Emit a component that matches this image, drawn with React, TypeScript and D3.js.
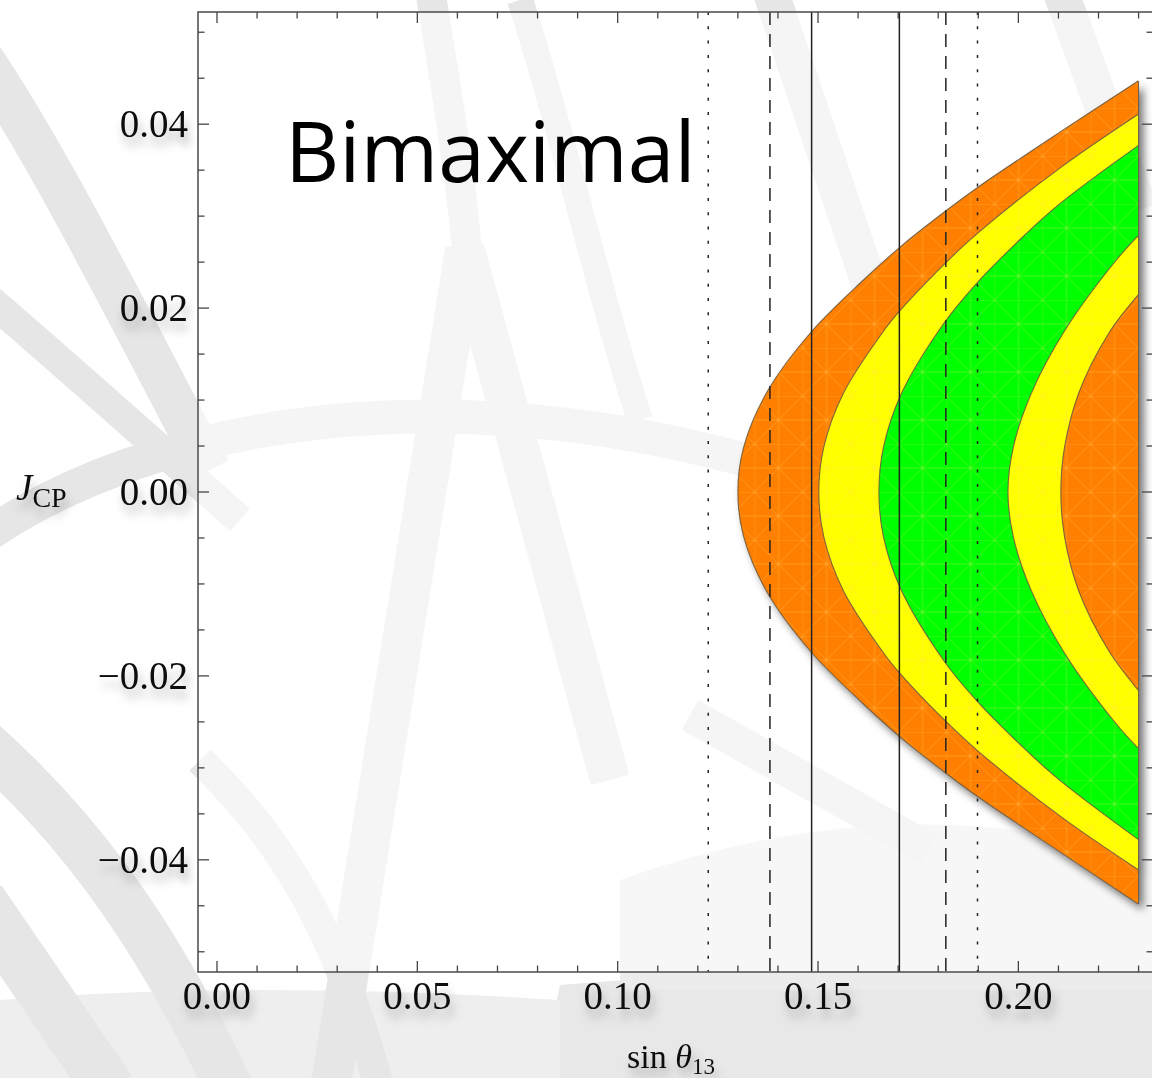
import React from 'react';
import * as d3 from 'd3';

const W = 1152;
const H = 1078;

// ---- axis ticks ----
const xMajorTicks = [0, 0.05, 0.1, 0.15, 0.2];
const xTickLabels = ['0.00', '0.05', '0.10', '0.15', '0.20'];
const yMajorTicks = [0.04, 0.02, 0, -0.02, -0.04];
const yTickLabels = ['0.04', '0.02', '0.00', '\u22120.02', '\u22120.04'];

// ---- vertical reference lines (sin θ13 ranges) ----
const refLineValues = [0.1226, 0.138, 0.1484, 0.1703, 0.1819, 0.1898];
const refLineStyles = ['dotted', 'dashed', 'solid', 'solid', 'dashed', 'dotted'];

// ---- region boundaries [sinθ13, J_CP], top half then bottom half ----
const outerUpper: [number, number][] = [
  [0.2299, 0.0447], [0.2099, 0.039], [0.1901, 0.0332], [0.1826, 0.0308], [0.1712, 0.0269],
  [0.1612, 0.023], [0.1483, 0.0174], [0.1373, 0.0109], [0.1314, 0.0048], [0.13, 0],
];
const outerLower: [number, number][] = [
  [0.1314, -0.0048], [0.1373, -0.0109], [0.1483, -0.0174], [0.1612, -0.023], [0.1712, -0.0269],
  [0.1826, -0.0308], [0.1901, -0.0332], [0.2099, -0.039], [0.2299, -0.0448],
];
const yellowUpper: [number, number][] = [
  [0.23, 0.0411], [0.2106, 0.0353], [0.19, 0.0282], [0.1811, 0.0246], [0.1706, 0.0198],
  [0.1667, 0.0177], [0.1563, 0.0107], [0.1514, 0.0048], [0.1502, 0],
];
const yellowLower: [number, number][] = [
  [0.1514, -0.0048], [0.1563, -0.0107], [0.1667, -0.0177], [0.1706, -0.0198], [0.1811, -0.0246],
  [0.19, -0.0282], [0.2106, -0.0353], [0.23, -0.0411],
];
const greenUpper: [number, number][] = [
  [0.23, 0.0377], [0.2091, 0.0309], [0.1951, 0.0252], [0.1896, 0.0227], [0.1815, 0.0184],
  [0.1707, 0.0106], [0.1663, 0.0048], [0.1652, 0],
];
const greenLower: [number, number][] = [
  [0.1663, -0.0048], [0.1707, -0.0106], [0.1815, -0.0184], [0.1896, -0.0227], [0.1951, -0.0252],
  [0.2091, -0.0309], [0.23, -0.0378],
];
const innerYellowUpper: [number, number][] = [
  [0.23, 0.0279], [0.2244, 0.0252], [0.2115, 0.0175], [0.2032, 0.0107], [0.1987, 0.0048], [0.1974, 0],
];
const innerYellowLower: [number, number][] = [
  [0.1987, -0.0048], [0.2032, -0.0107], [0.2115, -0.0175], [0.2244, -0.0252], [0.23, -0.0279],
];
const innerOrangeUpper: [number, number][] = [
  [0.23, 0.0215], [0.2226, 0.0173], [0.2151, 0.0108], [0.2115, 0.0048], [0.2106, 0],
];
const innerOrangeLower: [number, number][] = [
  [0.2115, -0.0048], [0.2151, -0.0108], [0.2226, -0.0173], [0.23, -0.0216],
];

const ORANGE = '#ff8000';
const YELLOW = '#ffff00';
const GREEN = '#00ff00';

const regions = [
  { upper: outerUpper, lower: outerLower, color: ORANGE },
  { upper: yellowUpper, lower: yellowLower, color: YELLOW },
  { upper: greenUpper, lower: greenLower, color: GREEN },
  { upper: innerYellowUpper, lower: innerYellowLower, color: YELLOW },
  { upper: innerOrangeUpper, lower: innerOrangeLower, color: ORANGE },
];

const L = 198, R = 1153, T = 12, B = 972;

const x = d3.scaleLinear().domain([-0.00474, 0.2336]).range([L, R]);
const y = d3.scaleLinear().domain([-0.0522, 0.0522]).range([B, T]);

const lineGen = d3
  .line<[number, number]>()
  .x((d) => x(d[0]))
  .y((d) => y(d[1]))
  .curve(d3.curveCatmullRom.alpha(0.5));

function regionPath(upper: [number, number][], lower: [number, number][]) {
  return (lineGen([...upper, ...lower]) || '') + 'Z';
}

const serif = "'Liberation Serif', 'Times New Roman', serif";

// decorative watermark strokes (background)
const watermark = [
  { d: 'M -30 40 C 40 140, 110 280, 210 470', w: 42 },
  { d: 'M -10 300 C 60 360, 150 440, 240 520', w: 30 },
  { d: 'M -20 540 C 150 420, 450 370, 780 470', w: 34 },
  { d: 'M 330 1090 L 465 250 L 610 780', w: 40 },
  { d: 'M 430 -10 C 445 80, 460 170, 468 260', w: 30 },
  { d: 'M 770 -10 L 905 390', w: 36 },
  { d: 'M 1060 -10 L 1140 210', w: 36 },
  { d: 'M -20 740 C 70 820, 150 920, 230 1090', w: 48 },
  { d: 'M -20 900 L 110 1090', w: 52 },
  { d: 'M 690 715 L 930 850', w: 34 },
  { d: 'M 200 760 C 260 820, 330 900, 380 1090', w: 30 },
  { d: 'M 520 0 C 560 120, 600 300, 640 420', w: 26 },
];

function Ticks() {
  const xMinor = d3.range(0.01, 0.2301, 0.01).filter((v) => Math.abs(Math.round(v * 100) % 5) !== 0);
  const yMinor = d3.range(-0.05, 0.0501, 0.005).filter((v) => Math.abs(Math.round(v * 1000) % 20) !== 0);
  const items: JSX.Element[] = [];
  const maj = 11, min = 6.5;
  xMajorTicks.forEach((v, i) => {
    items.push(<line key={'xb' + i} x1={x(v)} x2={x(v)} y1={B} y2={B - maj} />);
    items.push(<line key={'xt' + i} x1={x(v)} x2={x(v)} y1={T} y2={T + maj} />);
  });
  xMinor.forEach((v, i) => {
    items.push(<line key={'xbm' + i} x1={x(v)} x2={x(v)} y1={B} y2={B - min} />);
    items.push(<line key={'xtm' + i} x1={x(v)} x2={x(v)} y1={T} y2={T + min} />);
  });
  yMajorTicks.forEach((v, i) => {
    items.push(<line key={'yl' + i} x1={L} x2={L + maj} y1={y(v)} y2={y(v)} />);
    items.push(<line key={'yr' + i} x1={R} x2={R - maj} y1={y(v)} y2={y(v)} />);
  });
  yMinor.forEach((v, i) => {
    items.push(<line key={'ylm' + i} x1={L} x2={L + min} y1={y(v)} y2={y(v)} />);
    items.push(<line key={'yrm' + i} x1={R} x2={R - min} y1={y(v)} y2={y(v)} />);
  });
  return <g stroke="#444" strokeWidth={1.3}>{items}</g>;
}

export default function App() {
  const outerD = regionPath(outerUpper, outerLower);
  return (
    <div>
      <style>{'body{margin:0;background:#fff}'}</style>
      <svg width={W} height={H} viewBox={`0 0 ${W} ${H}`} style={{ display: 'block' }}>
        <defs>
          <filter id="tshadow" x="-40%" y="-60%" width="180%" height="260%">
            <feDropShadow dx="3" dy="9" stdDeviation="5" floodColor="#000" floodOpacity="0.28" />
          </filter>
          <filter id="shapeShadow" x="-10%" y="-10%" width="130%" height="130%">
            <feDropShadow dx="5" dy="6" stdDeviation="4.5" floodColor="#000" floodOpacity="0.55" />
          </filter>
          <pattern id="mesh" width="48" height="48" patternUnits="userSpaceOnUse" x={x(0.23)} y={y(0)}>
            <path d="M0 0H48M0 0V48M0 0L48 48M48 0L0 48M0 24H48M24 0V48" stroke="rgba(255,215,110,0.35)" strokeWidth={0.8} fill="none" />
          </pattern>
          <clipPath id="plotClip">
            <rect x={L} y={T} width={R - L} height={B - T} />
          </clipPath>
          <clipPath id="shapeClip">
            <path d={outerD} />
          </clipPath>
        </defs>

        {/* background watermark */}
        <rect x={0} y={0} width={W} height={H} fill="#ffffff" />
        <path d="M 560 985 Q 860 960 1152 990 L 1152 1078 L 540 1078 Z" fill="#e8e8e8" />
        <path d="M 0 1000 Q 250 980 560 1000 L 560 1078 L 0 1078 Z" fill="#eeeeee" />
        <path d="M 620 880 Q 900 780 1152 860 L 1152 990 L 620 990 Z" fill="#ececec" />
        <g fill="none" stroke="#e6e6e6" strokeLinecap="butt">
          {watermark.map((s, i) => (
            <path key={i} d={s.d} strokeWidth={s.w} />
          ))}
        </g>
        {/* plot background: translucent white */}
        <rect x={L} y={T} width={R - L} height={B - T} fill="#ffffff" opacity={0.6} />

        <g clipPath="url(#plotClip)">
          <g filter="url(#shapeShadow)">
            {regions.map((r, i) => (
              <path key={i} d={regionPath(r.upper, r.lower)} fill={r.color} />
            ))}
          </g>
          <g clipPath="url(#shapeClip)">
            <rect x={x(0.12)} y={T} width={x(0.23) - x(0.12)} height={B - T} fill="url(#mesh)" />
          </g>
          <g fill="none" stroke="#6e5a40" strokeWidth={1.1} strokeOpacity={0.9}>
            {regions.map((r, i) => (
              <path key={i} d={lineGen([...r.upper, ...r.lower]) || ''} />
            ))}
          </g>
          <line x1={x(0.23)} x2={x(0.23)} y1={y(0.0447)} y2={y(-0.0448)} stroke="#6e5a40" strokeWidth={1} />

          {/* reference lines */}
          {refLineValues.map((v, i) => (
            <line
              key={i}
              x1={x(v)}
              x2={x(v)}
              y1={T}
              y2={B}
              stroke="#222"
              strokeWidth={1.5}
              strokeDasharray={refLineStyles[i] === 'dotted' ? '3,11.3' : refLineStyles[i] === 'dashed' ? '13,9' : undefined}
            />
          ))}
        </g>

        {/* frame */}
        <rect x={L} y={T} width={R - L} height={B - T} fill="none" stroke="#555" strokeWidth={1.6} />
        <Ticks />

        {/* tick labels */}
        <g fontFamily={serif} fontSize={39} fill="#111" filter="url(#tshadow)">
          {yMajorTicks.map((v, i) => (
            <text key={'yl' + i} x={188} y={y(v) + 13} textAnchor="end">
              {yTickLabels[i]}
            </text>
          ))}
          {xMajorTicks.map((v, i) => (
            <text key={'xl' + i} x={x(v)} y={1009} textAnchor="middle">
              {xTickLabels[i]}
            </text>
          ))}
        </g>

        {/* axis labels */}
        <g fontFamily={serif} fill="#111" filter="url(#tshadow)">
          <text x={16} y={500}>
            <tspan fontStyle="italic" fontSize={37}>J</tspan>
            <tspan fontSize={28} dy={7}>CP</tspan>
          </text>
          <text x={627} y={1068}>
            <tspan fontSize={34}>sin </tspan>
            <tspan fontSize={34} fontStyle="italic">θ</tspan>
            <tspan fontSize={23} dy={6}>13</tspan>
          </text>
        </g>

        <text x={285} y={182} fontFamily="'Open Sans', 'Liberation Sans', sans-serif" fontSize={84} fill="#000">
          Bimaximal
        </text>
      </svg>
    </div>
  );
}
